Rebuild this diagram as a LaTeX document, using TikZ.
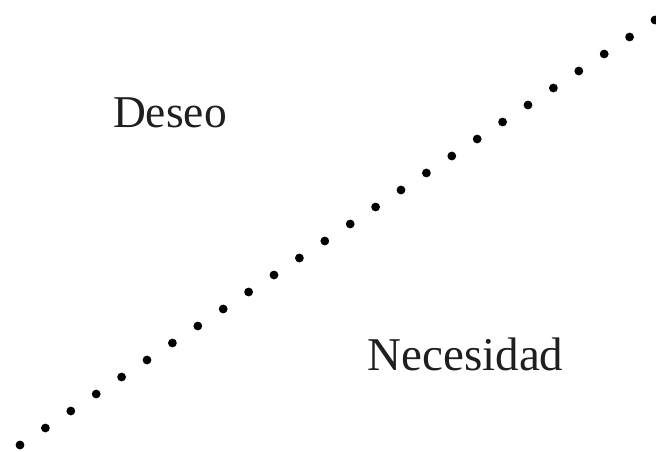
\documentclass[tikz,border=0pt]{standalone}
\usepackage{fontspec}
\setmainfont{Liberation Serif}
\begin{document}
\begin{tikzpicture}[x=1pt,y=-1pt,
  dotmark/.style={fill=black},
  lbl/.style={font=\fontsize{45.5}{54}\selectfont, inner sep=0pt, anchor=base, text=black!88}]
\useasboundingbox (0,0) rectangle (656,451);
\foreach \i in {0,...,25} {
  \fill[dotmark] ({20+25.4*\i},{445-17*\i}) circle (4.4);
}
\node[lbl] (deseo) at (170,127) {Deseo};
\node[lbl, font=\fontsize{47}{56}\selectfont] (necesidad) at (465.5,370) {Necesidad};
\end{tikzpicture}
\end{document}
